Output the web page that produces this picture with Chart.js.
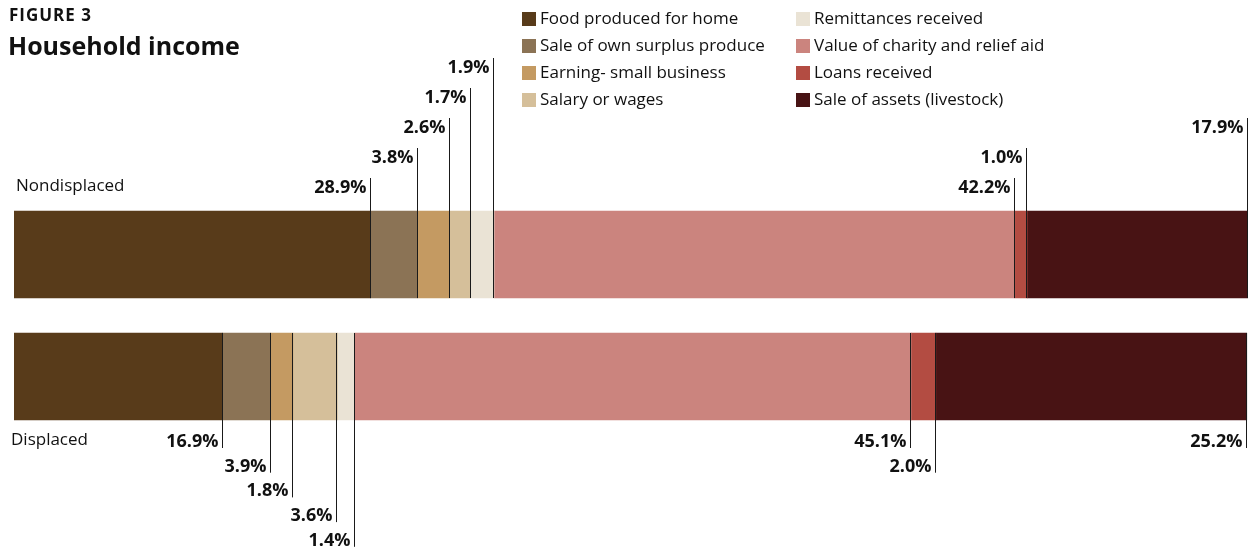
<!DOCTYPE html>
<html>
<head>
<meta charset="utf-8">
<script src="https://cdn.jsdelivr.net/npm/chart.js@4.4.1/dist/chart.umd.min.js"></script>
<style>
  html, body { margin: 0; padding: 0; background: #fff; }
  #wrap { width: 1257px; height: 550px; position: relative; }
</style>
</head>
<body>
<div id="wrap"><canvas id="incomeChart"></canvas></div>
<script>
"use strict";

const groups = ['Nondisplaced', 'Displaced'];
const sources = [
	'Food produced for home',
	'Sale of own surplus produce',
	'Earning- small business',
	'Salary or wages',
	'Remittances received',
	'Value of charity and relief aid',
	'Loans received',
	'Sale of assets (livestock)'
];
// share of household income, %
const nondisplaced = [28.9, 3.8, 2.6, 1.7, 1.9, 42.2, 1.0, 17.9];
const displaced = [16.9, 3.9, 1.8, 3.6, 1.4, 45.1, 2.0, 25.2];

const colors = ['#583b1a', '#8b7355', '#c49a62', '#d5bf9a', '#eae3d5', '#cb847e', '#b34c42', '#481314'];
// stagger level of each callout so they don't overlap
const topLevels = [0, 1, 2, 3, 4, 0, 1, 2];
const bottomLevels = [0, 1, 2, 3, 4, 0, 1, 0];

const FONT = '"Open Sans", "Noto Sans", sans-serif';

const datasets = sources.map((name, i) => ({
	label: name,
	data: [nondisplaced[i], displaced[i]],
	backgroundColor: colors[i],
	borderWidth: 0,
	barThickness: 87
}));

// title, legend, group names and callouts
const annotate = {
	id: 'annotate',
	afterDatasetsDraw(chart) {
		const ctx = chart.ctx;
		ctx.save();

		ctx.fillStyle = '#111';
		ctx.textBaseline = 'alphabetic';
		ctx.textAlign = 'left';
		ctx.font = 'bold 17px ' + FONT;
		if ('letterSpacing' in ctx) ctx.letterSpacing = '1px';
		ctx.fillText('FIGURE 3', 9, 21);
		if ('letterSpacing' in ctx) ctx.letterSpacing = '0px';
		ctx.font = 'bold 25px ' + FONT;
		ctx.fillText('Household income', 8, 55);

		// two-column legend
		ctx.font = '17px ' + FONT;
		ctx.textBaseline = 'middle';
		chart.data.datasets.forEach((ds, i) => {
			const col = Math.floor(i / 4);
			const row = i % 4;
			const x = col === 0 ? 522 : 796;
			const y = 19 + row * 27;
			ctx.fillStyle = ds.backgroundColor;
			ctx.fillRect(x, y - 7, 14, 14);
			ctx.fillStyle = '#111';
			ctx.fillText(ds.label, x + 18, y);
		});

		const meta0 = chart.getDatasetMeta(0).data;
		ctx.font = '17px ' + FONT;
		ctx.fillText(chart.data.labels[0], 16, meta0[0].y - meta0[0].height / 2 - 25);
		ctx.fillText(chart.data.labels[1], 11, meta0[1].y + meta0[1].height / 2 + 20);

		// callout lines at each segment's right edge
		ctx.strokeStyle = '#1a1a1a';
		ctx.lineWidth = 1;
		ctx.font = 'bold 18px ' + FONT;
		ctx.textAlign = 'right';
		ctx.textBaseline = 'alphabetic';
		chart.data.datasets.forEach((ds, i) => {
			const bars = chart.getDatasetMeta(i).data;
			[0, 1].forEach(j => {
				const bar = bars[j];
				const x = Math.round(bar.x) - 0.5;
				const top = bar.y - bar.height / 2;
				const bottom = bar.y + bar.height / 2;
				const text = ds.data[j].toFixed(1) + '%';
				ctx.beginPath();
				if (j === 0) {
					const lineTop = top - 33 - topLevels[i] * 30;
					ctx.moveTo(x, bottom);
					ctx.lineTo(x, lineTop);
					ctx.stroke();
					ctx.fillText(text, x - 4, lineTop + 15);
				} else {
					const lineBottom = bottom + 28 + bottomLevels[i] * 24.7;
					ctx.moveTo(x, top);
					ctx.lineTo(x, lineBottom);
					ctx.stroke();
					ctx.fillText(text, x - 4, lineBottom - 1);
				}
			});
		});
		ctx.restore();
	}
};

new Chart(document.getElementById('incomeChart'), {
	type: 'bar',
	data: { labels: groups, datasets: datasets },
	options: {
		indexAxis: 'y',
		responsive: true,
		maintainAspectRatio: false,
		animation: false,
		layout: { padding: { left: 14, right: 9, top: 193.5, bottom: 112.5 } },
		scales: {
			x: { stacked: true, display: false, min: 0, max: 100 },
			y: { stacked: true, display: false }
		},
		plugins: {
			legend: { display: false },
			title: { display: false },
			tooltip: { enabled: false }
		}
	},
	plugins: [annotate]
});
</script>
</body>
</html>
